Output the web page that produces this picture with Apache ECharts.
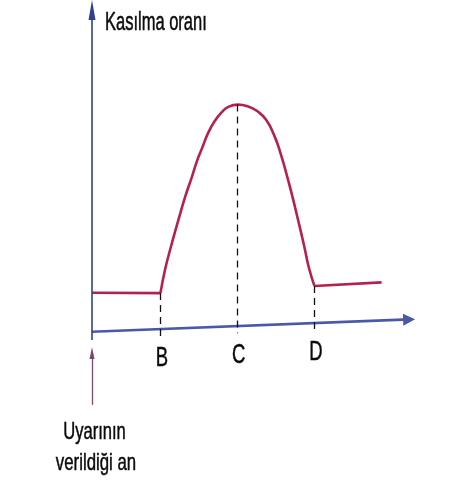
<!DOCTYPE html>
<html>
<head>
<meta charset="utf-8">
<script src="https://cdn.jsdelivr.net/npm/echarts@6/dist/echarts.min.js"></script>
<style>html,body{margin:0;padding:0;background:#fff}#c{width:450px;height:500px}</style>
</head>
<body>
<div id="c"></div>
<script>
// ---- data (x: time, y: contraction rate) ----
const restX = [0, 21.4];
const restY = [13.0, 12.9];
const archX = [21.4, 22.8, 24.9, 27.0, 29.1, 31.2, 32.8, 34.4, 36.3, 38.4, 40.5, 42.6, 45.6,
               48.8, 51.6, 54.4, 56.9, 58.8, 60.6, 62.5, 64.4, 66.3, 67.8, 69.5];
const archY = [12.9, 20.0, 28.0, 35.4, 42.5, 48.6, 53.5, 57.5, 62.2, 65.9, 68.5, 70.2, 70.9,
               70.3, 68.9, 66.2, 61.5, 56.3, 50.2, 43.1, 35.4, 27.4, 20.6, 15.1];
const recoveryX = [69.5, 90.5];
const recoveryY = [15.1, 16.2];
const tickLabels = ['B', 'C', 'D'];
const tickX = [21.4, 45.4, 69.5];
const tickTopY = [12.9, 70.9, 15.1];
const timeAxisX = [0, 99.1];
const timeAxisY = [1.0, 4.8];
const rateAxisY = [-1.5, 100];
const stimulusY = [-21.5, -5.5];
const yAxisTitle = 'Kasılma oranı';
const stimulusText = ['Uyarının', 'verildiği an'];

const zip = (xs, ys) => xs.map((x, i) => [x, ys[i]]);
const axisYAt = x => timeAxisY[0] + (timeAxisY[1] - timeAxisY[0]) * (x - timeAxisX[0]) / (timeAxisX[1] - timeAxisX[0]);

const RED = '#b5214d';
const INK = '#0a0a0a';
const FONT = '"Liberation Sans Narrow", "Arial Narrow", "Liberation Sans", sans-serif';

const chart = echarts.init(document.getElementById('c'), null, {renderer: 'canvas'});

const redLine = {color: RED, width: 2.6};
const markData = [
  [{coord: [timeAxisX[0], timeAxisY[0]], symbol: 'none', lineStyle: {color: '#4a58a8', width: 2.6, type: 'solid'}},
   {coord: [timeAxisX[1], timeAxisY[1]], symbol: 'triangle', symbolSize: [12, 12]}],
  [{coord: [0, rateAxisY[0]], symbol: 'none', lineStyle: {color: '#34408f', width: 1.6, type: 'solid'}},
   {coord: [0, rateAxisY[1]], symbol: 'triangle', symbolSize: [7, 20]}],
  [{coord: [0, stimulusY[0]], symbol: 'none', lineStyle: {color: '#7a4a70', width: 1.3, type: 'solid'}},
   {coord: [0, stimulusY[1]], symbol: 'triangle', symbolSize: [5, 12]}]
];
tickX.forEach((x, i) => {
  markData.push([
    {coord: [x, tickTopY[i]], symbol: 'none', lineStyle: {color: '#111', width: 1.3, type: [7, 5]}},
    {coord: [x, axisYAt(x) - 2.2], symbol: 'none'}
  ]);
});

chart.setOption({
  animation: false,
  grid: {left: 92, right: 38, top: 10, bottom: 2.5},
  xAxis: {type: 'value', min: 0, max: 100, show: false},
  yAxis: {type: 'value', min: -50, max: 100, show: false},
  series: [
    {type: 'line', data: zip(restX, restY), symbol: 'none', lineStyle: redLine, clip: false, z: 3},
    {type: 'line', data: zip(archX, archY), symbol: 'none', smooth: 0.5, lineStyle: redLine, clip: false, z: 3},
    {type: 'line', data: zip(recoveryX, recoveryY), symbol: 'none', lineStyle: redLine, clip: false, z: 3},
    {type: 'line', data: [], symbol: 'none', clip: false,
     markLine: {silent: true, animation: false, label: {show: false}, emphasis: {disabled: true}, data: markData}}
  ]
});

const toPx = (x, y) => chart.convertToPixel({gridIndex: 0}, [x, y]);
const textStyle = (text, size) => ({text, font: size + 'px ' + FONT, fill: INK, stroke: INK, lineWidth: 0.5,
  align: 'center', verticalAlign: 'middle'});
const graphics = [];
const axisTop = toPx(0, rateAxisY[1]);
graphics.push({type: 'text', x: axisTop[0] + 13, y: axisTop[1] + 13, scaleX: 0.66,
  style: Object.assign(textStyle(yAxisTitle, 25), {align: 'left'})});
tickLabels.forEach((t, i) => {
  const p = toPx(tickX[i], axisYAt(tickX[i]));
  graphics.push({type: 'text', x: p[0] + 1.5, y: p[1] + 29.5, scaleX: 0.66, style: textStyle(t, 28)});
});
const sb = toPx(0, stimulusY[0]);
graphics.push({type: 'text', x: sb[0] + 2.5, y: sb[1] + 27, scaleX: 0.69, style: textStyle(stimulusText[0], 24)});
graphics.push({type: 'text', x: sb[0] + 4, y: sb[1] + 58, scaleX: 0.7, style: textStyle(stimulusText[1], 24)});
chart.setOption({graphic: graphics});
</script>
</body>
</html>
